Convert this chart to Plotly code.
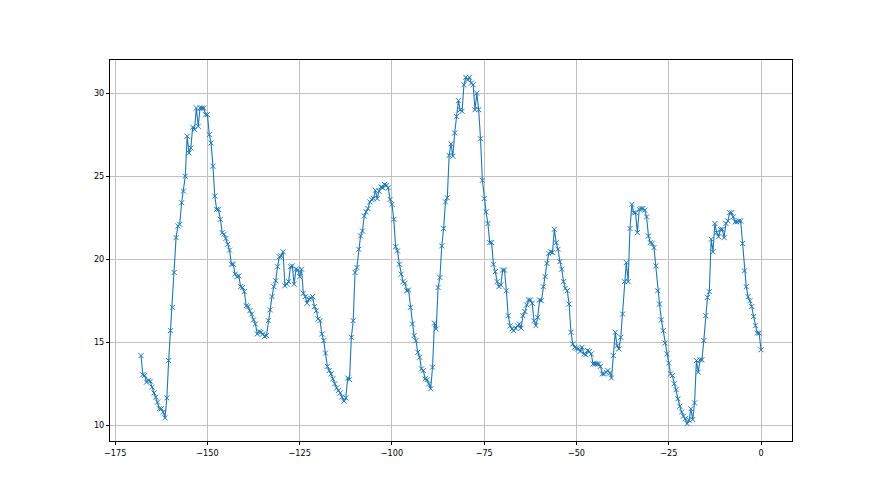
import numpy as np
import plotly.graph_objects as go

# hours relative to now, half-hour sampling
x_start = -168.0
x_step = 0.5

seg_a = [14.2, 13.05, 13.0, 12.6, 12.7, 12.65, 12.3, 11.95, 11.7, 11.4, 11.0, 11.0, 10.8, 10.45,
         11.65, 13.9, 15.7, 17.1, 19.2, 21.3, 22.0, 22.1, 23.4, 24.1, 25.0, 27.4, 26.4, 26.7,
         27.95, 27.8, 29.1, 28.0, 29.1, 29.1, 29.1, 28.7, 28.7, 27.5, 27.0, 25.6, 23.8, 23.0,
         23.0, 22.4, 21.6, 21.5, 21.25, 20.9]
seg_b = [20.55, 19.7, 19.7, 19.1, 18.95, 19.0, 18.35, 18.3, 18.05, 17.2, 17.15, 16.9, 16.7,
         16.35, 16.1, 15.5, 15.65, 15.6, 15.5, 15.35, 15.4, 16.3, 16.95, 17.75, 18.35, 18.7,
         19.55, 20.15, 20.2, 20.45, 18.4, 18.5, 18.65, 19.55, 19.6, 18.5, 19.4, 19.35, 18.95,
         19.4, 17.95, 17.75, 17.35, 17.6, 17.65, 17.75, 17.15, 16.9, 16.4]
seg_c = [16.3, 15.5, 15.1, 14.35, 13.55, 13.3, 13.1, 12.8, 12.5, 12.25, 12.1, 11.95, 11.7,
         11.45, 11.65, 12.85, 12.75, 15.3, 16.3, 19.2, 19.5, 20.6, 21.4, 21.7, 22.6, 22.85,
         23.05, 23.45, 23.6, 23.65, 24.15, 23.65, 24.1, 24.35, 24.3, 24.5, 24.45, 24.3, 23.6,
         23.3, 22.4, 20.75, 20.5, 19.7, 19.1, 18.65, 18.55, 18.1, 18.15]
seg_d = [17.1, 16.1, 15.4, 15.1, 14.4, 14.1, 13.4, 13.3, 12.8, 12.75, 12.5, 12.2, 13.5, 16.15,
         15.8, 18.3, 18.9, 20.8, 21.85, 23.45, 23.7, 26.25, 26.95, 26.2, 27.6, 28.6, 29.55,
         29.0, 28.9, 30.5, 30.95, 30.8, 30.95, 30.6, 30.5, 29.0, 30.0, 29.0, 27.25, 24.75,
         23.65, 22.85, 22.15, 21.0, 21.0, 19.7, 19.25, 18.65, 18.35]
seg_e = [18.45, 19.35, 19.35, 18.1, 16.6, 16.0, 15.8, 15.7, 15.85, 16.0, 16.1, 15.85, 16.6,
         16.85, 17.25, 17.55, 17.55, 17.35, 16.3, 16.0, 16.5, 17.55, 17.5, 18.35, 18.95, 19.75,
         20.35, 20.45, 20.4, 21.8, 21.0, 20.6, 19.85, 19.4, 18.65, 18.25, 18.1, 17.3, 15.6,
         14.9, 14.7, 14.65, 14.6, 14.45, 14.7, 14.3, 14.25, 14.5, 14.45, 14.3, 13.7, 13.7, 13.7,
         13.7, 13.55, 13.1, 13.1, 13.2, 13.3, 13.15, 12.85, 14.2, 15.6, 14.8, 14.6]
seg_f = [15.3, 16.7, 18.65, 19.8, 18.65, 21.85, 23.3, 22.8, 22.8, 21.6, 23.0, 23.05, 23.05,
         22.95, 22.55, 21.4, 21.0, 20.95, 20.7, 19.6, 18.1, 17.3, 16.35, 15.7, 14.95, 14.3,
         13.75, 13.1, 13.0, 12.5]
seg_g = [12.15, 11.6, 11.15, 10.8, 10.55, 10.4, 10.1, 10.3, 11.0, 10.35, 11.35, 13.9, 13.2,
         13.95, 13.95, 15.1, 16.6, 17.7, 18.05, 21.2, 20.45, 22.15, 21.6, 21.35, 21.8, 21.8,
         21.3, 22.15, 22.3, 22.8, 22.8, 22.55, 22.25, 22.25, 22.3, 22.3, 20.95, 19.3, 18.35,
         17.75, 17.5, 17.15, 16.55, 16.0, 15.55, 15.55, 14.55]

values = seg_a + seg_b + seg_c + seg_d + seg_e + seg_f + seg_g
hours = [x_start + i * x_step for i in range(len(values))]

x_tickvals = [-175, -150, -125, -100, -75, -50, -25, 0]
x_ticktext = ["\u2212175", "\u2212150", "\u2212125", "\u2212100", "\u221275", "\u221250", "\u221225", "0"]
y_tickvals = [10, 15, 20, 25, 30]
y_ticktext = ["10", "15", "20", "25", "30"]

color = "#1f77b4"
fig = go.Figure()
fig.add_trace(go.Scatter(
    x=hours, y=values, mode="lines+markers",
    line=dict(color=color, width=1.1),
    marker=dict(symbol="x-thin", size=5, color=color, line=dict(width=1, color=color)),
    showlegend=False,
))

x_lo, x_hi = min(hours), max(hours)
pad_x = (x_hi - x_lo) * 0.05
y_lo, y_hi = min(values), max(values)
pad_y = (y_hi - y_lo) * 0.05

axis_common = dict(
    showline=True, linecolor="black", linewidth=1, mirror=True,
    ticks="outside", ticklen=3, tickwidth=1, tickcolor="black",
    showgrid=True, gridcolor="#c0c0c0", gridwidth=0.8,
    zeroline=False,
    tickfont=dict(family="DejaVu Sans Condensed, Liberation Sans Narrow, DejaVu Sans", size=9, color="black"),
)

fig.update_layout(
    width=880, height=495,
    margin=dict(l=102, r=96, t=52, b=62),
    paper_bgcolor="white", plot_bgcolor="white",
    xaxis=dict(range=[x_lo - pad_x, x_hi + pad_x], tickvals=x_tickvals, ticktext=x_ticktext, **axis_common),
    yaxis=dict(range=[y_lo - pad_y, y_hi + pad_y], tickvals=y_tickvals, ticktext=y_ticktext, **axis_common),
)

fig.write_html("out.html")
